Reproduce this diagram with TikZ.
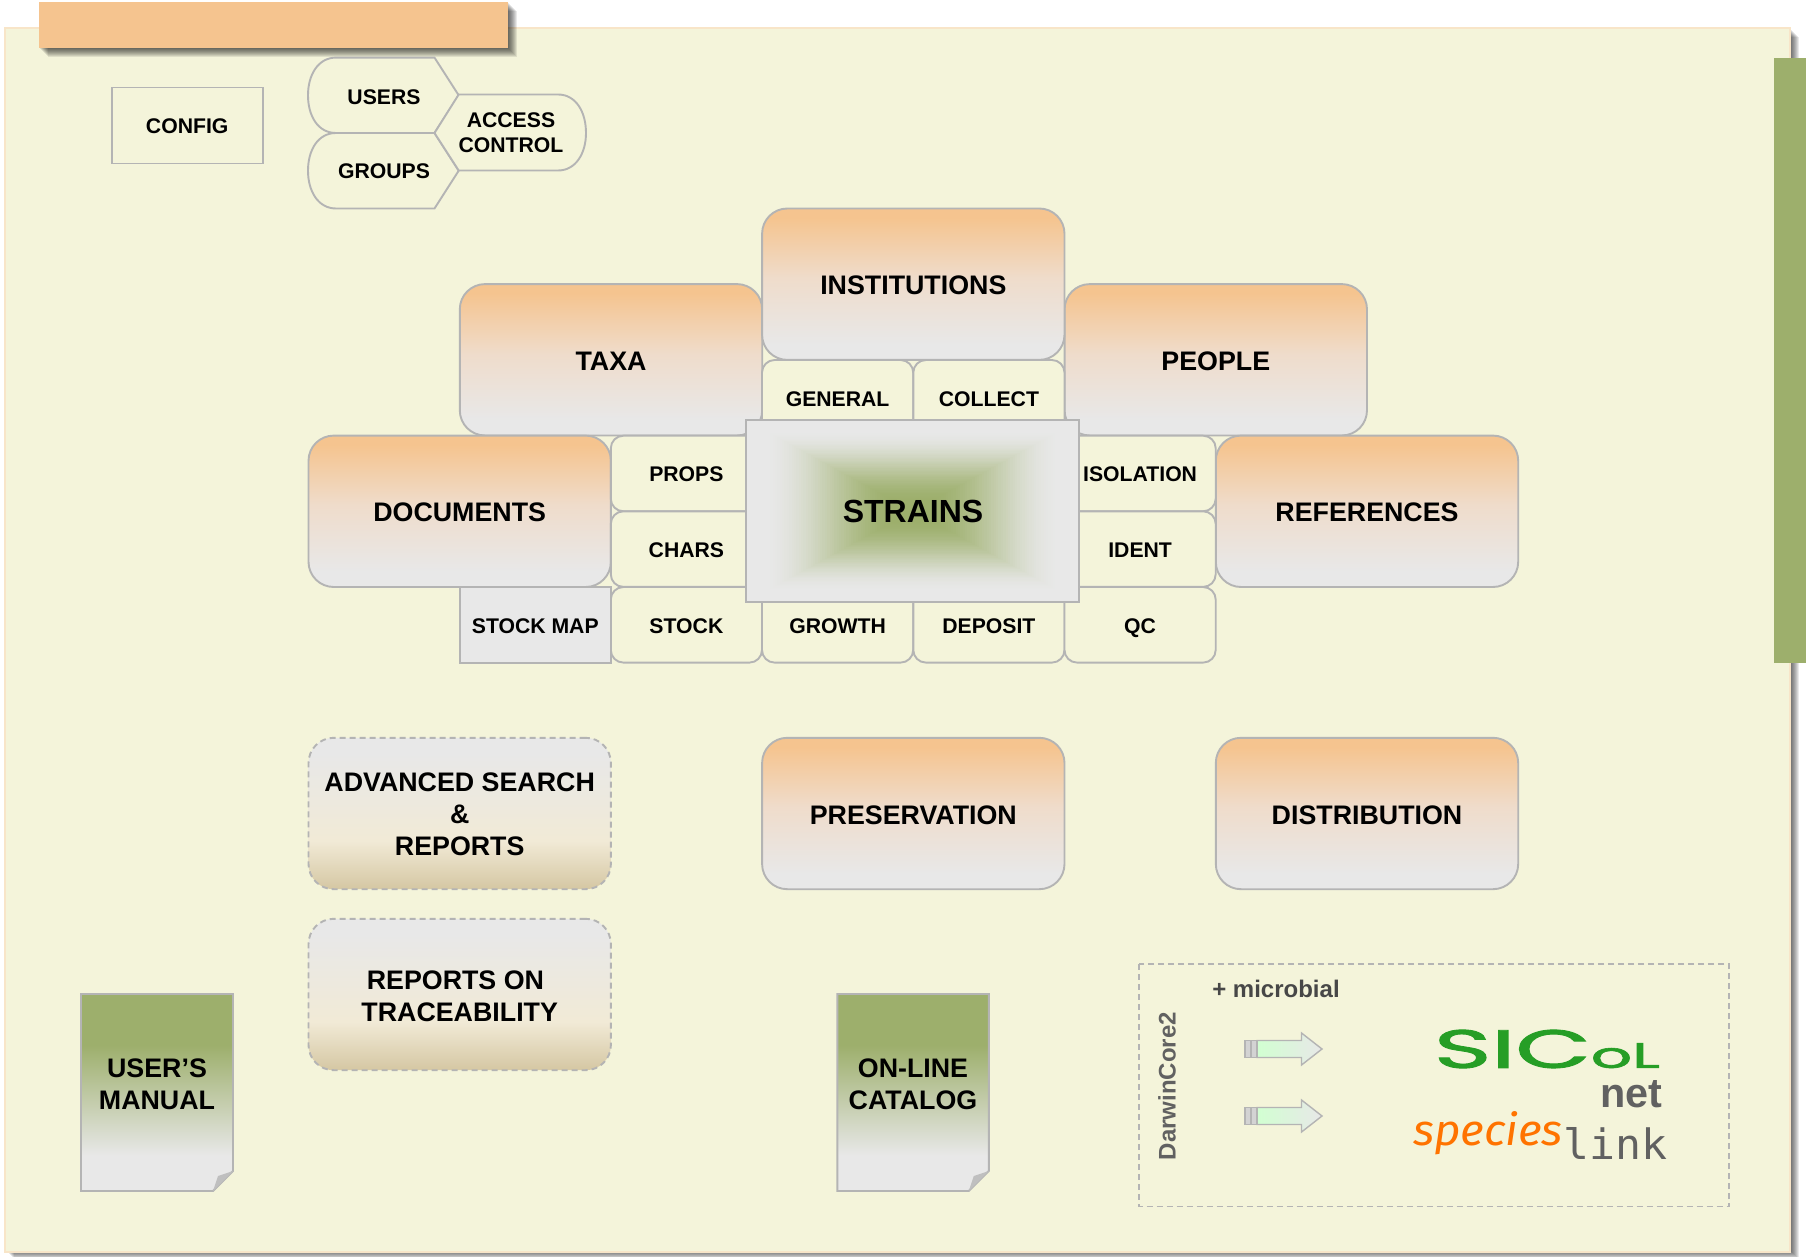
\documentclass[tikz,border=0pt]{standalone}
\usepackage{fontspec}
\usepackage{graphicx}
\setmainfont{Liberation Sans}
\newfontfamily\logofont[FakeBold=1.6]{Poppins}
\newfontfamily\speciesfont{Fira Sans}
\newfontfamily\linkfont{DejaVu Sans Mono}
\definecolor{pagefill}{HTML}{F4F4DA}
\definecolor{pageedge}{HTML}{F8E5C8}
\definecolor{orangeA}{HTML}{F5C48F}
\definecolor{orangeB}{HTML}{EFDCCB}
\definecolor{greyA}{HTML}{E8E8E8}
\definecolor{greenA}{HTML}{9DAF6C}
\definecolor{tanA}{HTML}{D5C7A3}
\definecolor{tanB}{HTML}{F1EAD6}
\definecolor{edge}{HTML}{B4B4B4}
\pgfdeclareverticalshading{orangegrad}{100bp}{color(0bp)=(greyA); color(30bp)=(greyA); color(52bp)=(orangeB); color(72bp)=(orangeA); color(100bp)=(orangeA)}
\pgfdeclareverticalshading{tangrad}{100bp}{color(0bp)=(tanA); color(25bp)=(tanA); color(41bp)=(tanB); color(70bp)=(greyA); color(100bp)=(greyA)}
\pgfdeclareverticalshading{docgrad}{100bp}{color(0bp)=(greyA); color(34bp)=(greyA); color(62bp)=(greenA); color(100bp)=(greenA)}
\tikzset{
  x=.5pt,y=-.5pt,
  label font/.style={font=\bfseries\fontsize{10.6}{12.7}\selectfont,align=center,text=black},
  cellbox/.style={label font,draw=edge,line width=.95pt,rounded corners=6.3pt,fill=pagefill,minimum width=75.6pt,minimum height=37.8pt,inner sep=0pt,text height=8.3pt,text depth=0pt},
  bigbox/.style={draw=edge,line width=.95pt,rounded corners=12.6pt,shade,shading=orangegrad,minimum width=151.2pt,minimum height=75.7pt,inner sep=0pt,font=\bfseries\fontsize{13.4}{16}\selectfont,text height=10.6pt,text depth=0pt},
  dashbox/.style={bigbox,shading=tangrad,dash pattern=on 3pt off 2pt},
  outline/.style={draw=edge,line width=.95pt},
  doc/.style={outline,shade,shading=docgrad},
  biglabel/.style={font=\bfseries\fontsize{13.4}{16}\selectfont,align=center,inner sep=0pt},
  plainlabel/.style={label font,inner sep=0pt},
  arrowtail/.style={draw=edge,line width=.7pt,fill=greyA!80!gray},
  arrowbody/.style={draw=edge,line width=.7pt,left color=green!18!white,right color=greyA},
}
\newcommand{\softshadow}[4]{% x1 y1 x2 y2
  \foreach \g in {9,8,...,1}{
    \fill[black,opacity=.085] (#1+\g,#2+\g) rectangle (#3+\g,#4+\g);
  }
}
\newcommand{\fatarrow}[1]{%
  \path[arrowbody] (1257,#1-8.5) -- (1301.5,#1-8.5) -- (1301.5,#1-16) -- (1322,#1) -- (1301.5,#1+16) -- (1301.5,#1+8.5) -- (1257,#1+8.5) -- cycle;
  \path[arrowtail] (1245,#1-8.5) rectangle (1251,#1+8.5);
  \path[arrowtail] (1251,#1-8.5) rectangle (1257,#1+8.5);
}
\begin{document}
\begin{tikzpicture}
\useasboundingbox (0,0) rectangle (1806,1257);
\fill[white] (0,0) rectangle (1806,1257);
% page
\softshadow{5}{28}{1790}{1250}
\path[fill=pagefill,draw=pageedge,line width=1.2pt] (5,28) rectangle (1790,1252);
% bars
\fill[greenA] (1774,58) rectangle (1806,663);
\softshadow{39}{2}{508}{48}
\fill[orangeA] (39,2) rectangle (508,48);
% config group
\node[plainlabel,outline,minimum width=75.4pt,minimum height=38pt,text height=8.3pt,text depth=0pt] (config) at (187.2,125.5) {CONFIG};
\path[outline,fill=pagefill] (434.5,57.6) -- (458.7,95.3) -- (434.5,133) -- (336,133) .. controls (318,133) and (308,116) .. (308,95.3) .. controls (308,75) and (318,57.6) .. (336,57.6) -- cycle;
\path[outline,fill=pagefill] (434.5,133) -- (458.7,170.7) -- (434.5,208.5) -- (336,208.5) .. controls (318,208.5) and (308,191) .. (308,170.7) .. controls (308,150) and (318,133) .. (336,133) -- cycle;
\path[outline,fill=pagefill] (434.5,133) -- (458.7,94.5) -- (558,94.5) .. controls (576,94.5) and (586,112) .. (586,133) .. controls (586,153) and (576,170.5) .. (558,170.5) -- (458.7,170.5) -- cycle;
\node[plainlabel] (users) at (384,97) {USERS};
\node[plainlabel] (groups) at (384,171.5) {GROUPS};
\node[plainlabel] (access) at (511,132.5) {ACCESS\\CONTROL};
% main cluster
\begin{scope}[xshift=.5pt]
\node[bigbox] (taxa) at (610,359.8) {TAXA};
\node[bigbox] (people) at (1214.8,359.8) {PEOPLE};
\node[bigbox] (institutions) at (912.3,284.2) {INSTITUTIONS};
\node[bigbox] (documents) at (458.7,511.3) {DOCUMENTS};
\node[bigbox] (references) at (1366,511.3) {REFERENCES};
\node[cellbox] (general) at (836.6,397.8) {GENERAL};
\node[cellbox] (collect) at (987.9,397.8) {COLLECT};
\node[cellbox] (props) at (685.4,473.5) {PROPS};
\node[cellbox] (chars) at (685.4,549.1) {CHARS};
\node[cellbox] (stock) at (685.4,624.8) {STOCK};
\node[cellbox] (growth) at (836.6,624.8) {GROWTH};
\node[cellbox] (deposit) at (987.9,624.8) {DEPOSIT};
\node[cellbox] (qc) at (1139.1,624.8) {QC};
\node[cellbox] (isolation) at (1139.1,473.5) {ISOLATION};
\node[cellbox] (ident) at (1139.1,549.1) {IDENT};
\node[cellbox,sharp corners,fill=greyA] (stockmap) at (534.3,624.8) {STOCK MAP};
\end{scope}
% strains
\fill[greyA] (746.4,420.4) rectangle (1079.2,601.8);
\foreach \i in {0,...,69}{
  \pgfmathsetmacro{\t}{1-\i/70}
  \pgfmathsetmacro{\u}{max(0,min(1,(0.9-\t)/(0.9-0.1)))}
  \pgfmathsetmacro{\p}{100*\u*\u*(3-2*\u)}
  \fill[greenA!\p!greyA] (912.8-166.4*\t,511.1-90.7*\t) rectangle (912.8+166.4*\t,511.1+90.7*\t);
}
\draw[edge,line width=.95pt] (746.4,420.4) rectangle (1079.2,601.8);
\node[inner sep=0pt,font=\bfseries\fontsize{16}{18}\selectfont] (strains) at (913,511.3) {STRAINS};
% lower row
\begin{scope}[xshift=.5pt]
\node[dashbox] (advanced) at (458.7,813.5) {};
\node[dashbox] (reports) at (458.7,994.5) {};
\node[bigbox] (preservation) at (912.3,813.5) {PRESERVATION};
\node[bigbox] (distribution) at (1366,813.5) {DISTRIBUTION};
\node[biglabel] at (advanced.center) [yshift=-.5pt] (advancedlabel) {ADVANCED SEARCH\\\&\\REPORTS};
\node[biglabel] at (reports.center) [yshift=-.8pt] (reportslabel) {REPORTS ON\hspace*{4.3pt}\\TRACEABILITY};
\end{scope}
% documents
\path[doc] (81,994) -- (233,994) -- (233,1171) -- (213,1191) -- (81,1191) -- cycle;
\path[fill=edge!85!white] (233,1171) -- (218,1176) -- (213,1191) -- cycle;
\node[biglabel] (manual) at (157,1084) {USER’S\\MANUAL};
\path[doc] (837.3,994) -- (988.8,994) -- (988.8,1171) -- (968.8,1191) -- (837.3,1191) -- cycle;
\path[fill=edge!85!white] (988.8,1171) -- (973.8,1176) -- (968.8,1191) -- cycle;
\node[biglabel] (catalog) at (913,1084) {ON-LINE\\CATALOG};
% export box
\draw[edge,line width=.8pt,dash pattern=on 3pt off 2pt] (1139,964) rectangle (1729,1206.5);
\node[inner sep=0pt,rotate=90,text=black!62,font=\bfseries\fontsize{12}{14}\selectfont] (darwin) at (1167,1086) {DarwinCore2};
\node[inner sep=0pt,text=black!72,font=\bfseries\fontsize{12}{14}\selectfont] (microbial) at (1276,988.5) {+ microbial};
\fatarrow{1049}
\fatarrow{1116}
\node[inner sep=0pt,text=green!55!black!85!white] (sicol) at (1547,1049) {\resizebox{113pt}{19pt}{\logofont\fontsize{20}{20}\selectfont SIC\scalebox{.66}{oL}}};
\node[inner sep=0pt,text=black!62] (net) at (1631,1094) {\resizebox{31pt}{13.5pt}{\bfseries net}};
\node[inner sep=0pt,text=orange!90!red] (species) at (1488,1133) {\resizebox{75pt}{17pt}{\speciesfont\itshape species}};
\node[inner sep=0pt,text=black!62] (link) at (1615,1143) {\resizebox{52pt}{16pt}{\linkfont link}};
\end{tikzpicture}
\end{document}
